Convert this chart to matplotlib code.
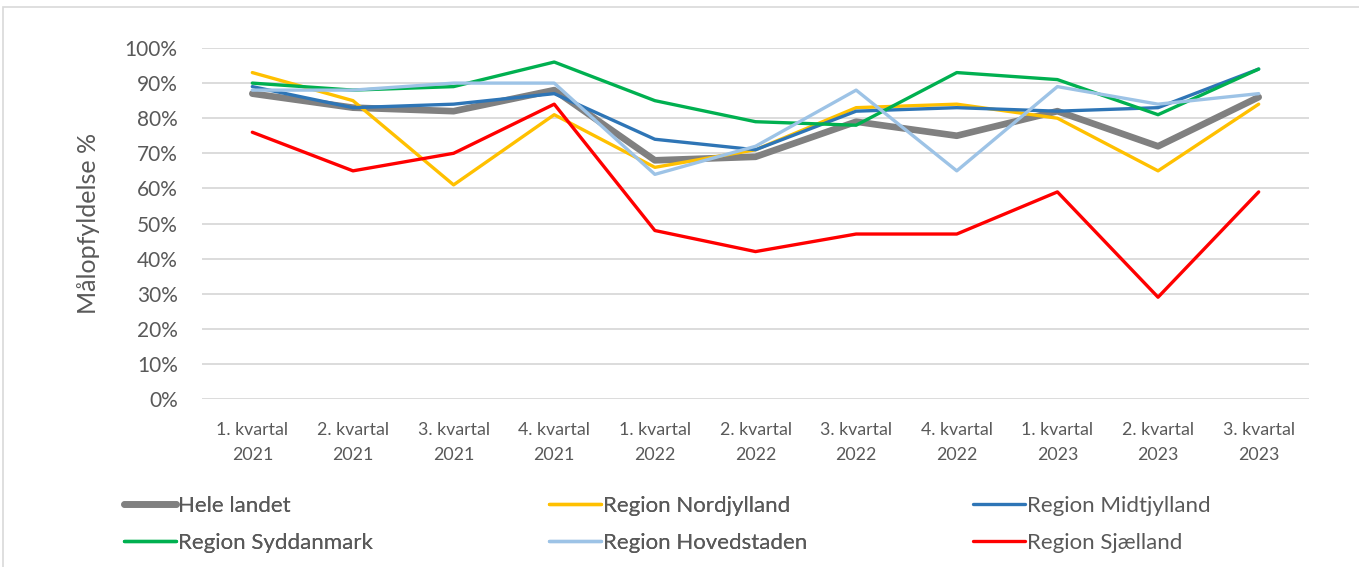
import matplotlib
matplotlib.use("Agg")
import matplotlib.pyplot as plt
from matplotlib.patches import Rectangle
from matplotlib.ticker import PercentFormatter

plt.rcParams['font.family'] = ['Lato', 'DejaVu Sans']

quarters = ["1. kvartal\n2021", "2. kvartal\n2021", "3. kvartal\n2021", "4. kvartal\n2021",
            "1. kvartal\n2022", "2. kvartal\n2022", "3. kvartal\n2022", "4. kvartal\n2022",
            "1. kvartal\n2023", "2. kvartal\n2023", "3. kvartal\n2023"]

hele_landet = [87, 83, 82, 88, 68, 69, 79, 75, 82, 72, 86]
nordjylland = [93, 85, 61, 81, 66, 71, 83, 84, 80, 65, 84]
midtjylland = [89, 83, 84, 87, 74, 71, 82, 83, 82, 83, 94]
syddanmark = [90, 88, 89, 96, 85, 79, 78, 93, 91, 81, 94]
hovedstaden = [88, 88, 90, 90, 64, 72, 88, 65, 89, 84, 87]
sjaelland = [76, 65, 70, 84, 48, 42, 47, 47, 59, 29, 59]

series_names = ["Hele landet", "Region Nordjylland", "Region Midtjylland",
                "Region Syddanmark", "Region Hovedstaden", "Region Sjælland"]
series_values = [hele_landet, nordjylland, midtjylland, syddanmark, hovedstaden, sjaelland]
colors = ["#808080", "#FFC000", "#2E75B6", "#00B050", "#9DC3E6", "#FF0000"]
widths = [4.8, 2.4, 2.4, 2.4, 2.4, 2.4]

W, H = 1359, 567
fig = plt.figure(figsize=(W / 100, H / 100), dpi=100)
fig.patches.append(Rectangle((3 / W, -0.1), 1.2, (H - 7) / H + 0.1, transform=fig.transFigure,
                             fill=False, edgecolor="#D9D9D9", linewidth=1.2))

left, right, top, bottom = 202, 1309, 48, 399
ax = fig.add_axes([left / W, 1 - bottom / H, (right - left) / W, (bottom - top) / H])

x = list(range(len(quarters)))
handles = {}
for name, vals, c, lw in zip(series_names, series_values, colors, widths):
    ln, = ax.plot(x, vals, color=c, linewidth=lw, solid_capstyle="round",
                  solid_joinstyle="round", label=name)
    handles[name] = ln

ax.set_xlim(-0.5, len(quarters) - 0.5)
ax.set_ylim(0, 100)
ax.set_yticks(range(0, 101, 10))
ax.yaxis.set_major_formatter(PercentFormatter(decimals=0))
ax.set_xticks(x)
ax.set_xticklabels(quarters, linespacing=1.72)
ax.grid(axis="y", color="#D9D9D9", linewidth=1.3)
ax.set_axisbelow(True)
for s in ax.spines.values():
    s.set_visible(False)
ax.tick_params(axis="both", length=0, colors="#595959")
ax.tick_params(axis="y", labelsize=15, pad=17.5)
ax.tick_params(axis="x", labelsize=12.8, pad=16.5)
ax.set_ylabel("Målopfyldelse %", fontsize=18, color="#595959", labelpad=18)

cols = [["Hele landet", "Region Syddanmark"],
        ["Region Nordjylland", "Region Hovedstaden"],
        ["Region Midtjylland", "Region Sjælland"]]
col_x = [115, 540, 964]
for i, (cx, names) in enumerate(zip(col_x, cols)):
    lg = fig.legend([handles[n] for n in names], names, loc="upper left",
                    bbox_to_anchor=(cx / W, 1 - 487 / H), frameon=False,
                    fontsize=16, labelcolor="#595959", handlelength=2.35,
                    handletextpad=0.1, labelspacing=0.78, borderaxespad=0)
    if i < 2:
        fig.add_artist(lg)

fig.savefig("out.png", dpi=100)
